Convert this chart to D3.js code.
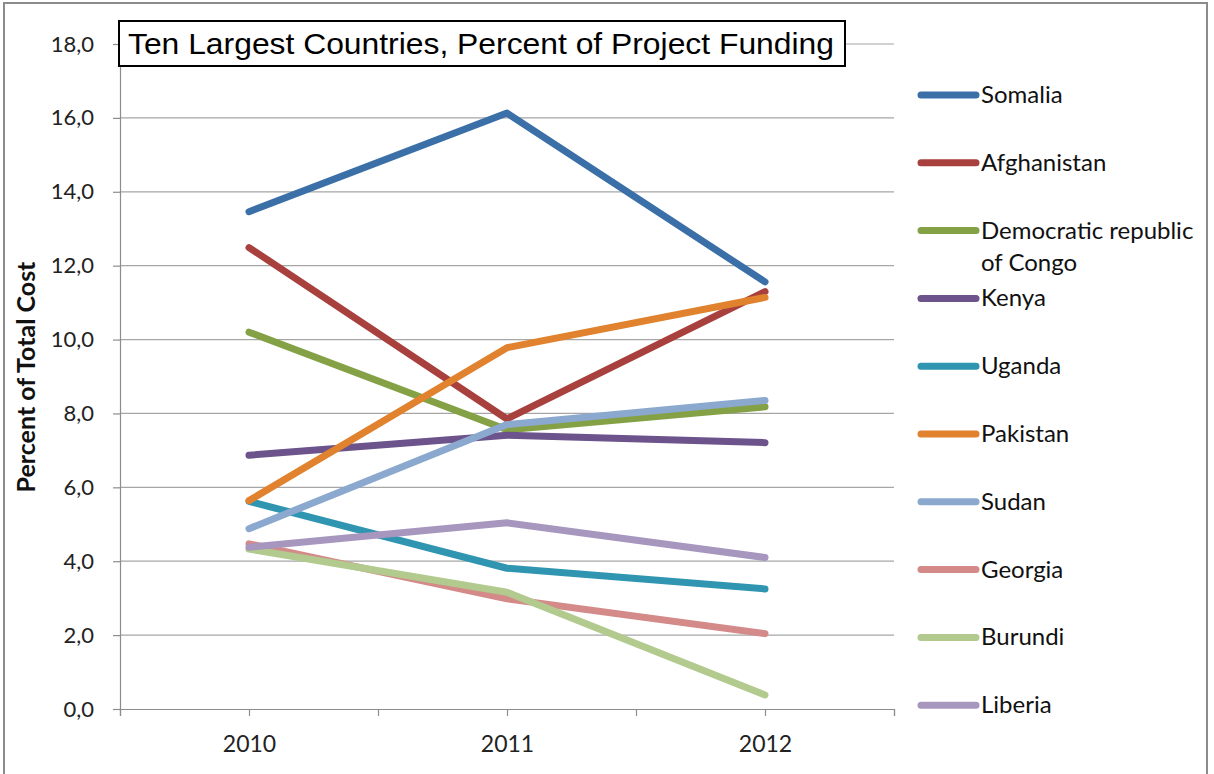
<!DOCTYPE html>
<html>
<head>
<meta charset="utf-8">
<script src="https://cdn.jsdelivr.net/npm/d3@7"></script>
<style>
  body { margin: 0; background: #fff; }
  svg { display: block; }
</style>
</head>
<body>
<div id="chart"></div>
<script>
// data
const years = ['2010', '2011', '2012'];
const countries = ['Somalia', 'Afghanistan', 'Democratic republic of Congo', 'Kenya', 'Uganda',
                   'Pakistan', 'Sudan', 'Georgia', 'Burundi', 'Liberia'];
const somalia     = [13.46, 16.13, 11.56];
const afghanistan = [12.49, 7.85, 11.30];
const congo       = [10.20, 7.56, 8.18];
const kenya       = [6.87, 7.41, 7.21];
const uganda      = [5.62, 3.81, 3.25];
const pakistan    = [5.64, 9.78, 11.14];
const sudan       = [4.88, 7.70, 8.35];
const georgia     = [4.47, 2.98, 2.04];
const burundi     = [4.33, 3.16, 0.38];
const liberia     = [4.38, 5.04, 4.10];
const yTicks = [0, 2, 4, 6, 8, 10, 12, 14, 16, 18];
const colors = ['#3B6FA7', '#A8403D', '#85A146', '#6C538B', '#2F95B1',
                '#E0822E', '#8BA8CF', '#D38A89', '#B2CA8D', '#A796BE'];

const series = [somalia, afghanistan, congo, kenya, uganda, pakistan, sudan, georgia, burundi, liberia];

const W = 1214, H = 774;
const svg = d3.select('#chart').append('svg')
  .attr('width', W)
  .attr('height', H);

// outer chart border (bottom edge falls outside the picture)
svg.append('rect')
  .attr('x', 4).attr('y', 3)
  .attr('width', 1203).attr('height', 790)
  .attr('fill', '#fff')
  .attr('stroke', '#8c8c8c')
  .attr('stroke-width', 2);

const x = d3.scaleLinear().domain([-0.5, 2.5]).range([120, 894]);
const y = d3.scaleLinear().domain([0, 18]).range([709, 44]);

// gridlines
svg.append('g')
  .selectAll('line')
  .data(yTicks.slice(1))
  .join('line')
  .attr('x1', 120).attr('x2', 894)
  .attr('y1', d => y(d)).attr('y2', d => y(d))
  .attr('stroke', '#a6a6a6')
  .attr('stroke-width', 1.2);

// y axis
const yAxis = svg.append('g')
  .attr('transform', 'translate(120,0)')
  .call(d3.axisLeft(y).tickValues(yTicks).tickSize(7).tickPadding(19)
    .tickFormat(d => d3.format('.1f')(d).replace('.', ',')));
yAxis.select('.domain').attr('stroke', '#8c8c8c').attr('stroke-width', 1.2);
yAxis.selectAll('.tick line').attr('stroke', '#8c8c8c').attr('stroke-width', 1.2);
yAxis.selectAll('text')
  .attr('font-family', 'Lato, "Open Sans", sans-serif')
  .attr('font-size', 22)
  .attr('fill', '#222');

// x axis
const xAxis = svg.append('g')
  .attr('transform', 'translate(0,709)')
  .call(d3.axisBottom(x).tickValues([-0.5, 0, 0.5, 1, 1.5, 2, 2.5]).tickSize(7)
    .tickFormat(d => Number.isInteger(d) ? years[d] : ''));
xAxis.select('.domain').attr('stroke', '#8c8c8c').attr('stroke-width', 1.2);
xAxis.selectAll('.tick line').attr('stroke', '#8c8c8c').attr('stroke-width', 1.2);
xAxis.selectAll('text')
  .attr('y', 43)
  .attr('dy', 0)
  .attr('font-family', 'Lato, "Open Sans", sans-serif')
  .attr('font-size', 23)
  .attr('fill', '#222');

// y axis title
svg.append('text')
  .attr('transform', 'translate(35,377) rotate(-90)')
  .attr('text-anchor', 'middle')
  .attr('font-family', 'Lato, "Open Sans", sans-serif')
  .attr('font-weight', 'bold')
  .attr('font-size', 25)
  .attr('fill', '#111')
  .text('Percent of Total Cost');

// lines
const line = d3.line()
  .x((d, i) => x(i))
  .y(d => y(d));

svg.append('g')
  .selectAll('path')
  .data(series)
  .join('path')
  .attr('d', d => line(d))
  .attr('fill', 'none')
  .attr('stroke', (d, i) => colors[i])
  .attr('stroke-width', 7)
  .attr('stroke-linecap', 'round')
  .attr('stroke-linejoin', 'round');

// title box
const tg = svg.append('g');
tg.append('rect')
  .attr('x', 119).attr('y', 21)
  .attr('width', 726).attr('height', 45)
  .attr('fill', '#fff')
  .attr('stroke', '#000')
  .attr('stroke-width', 2);
tg.append('text')
  .attr('x', 128).attr('y', 54)
  .attr('font-family', '"Liberation Sans", Arial, sans-serif')
  .attr('font-size', 30)
  .attr('textLength', 706)
  .attr('lengthAdjust', 'spacingAndGlyphs')
  .attr('fill', '#000')
  .text('Ten Largest Countries, Percent of Project Funding');

// legend
const legend = svg.append('g')
  .selectAll('g')
  .data(countries)
  .join('g')
  .attr('transform', (d, i) => `translate(919,${95 + i * 67.8})`);

legend.append('line')
  .attr('x1', 2).attr('x2', 57)
  .attr('y1', 0).attr('y2', 0)
  .attr('stroke', (d, i) => colors[i])
  .attr('stroke-width', 7)
  .attr('stroke-linecap', 'round');

legend.append('text')
  .attr('x', 62)
  .attr('y', 8)
  .attr('font-family', 'Lato, "Open Sans", sans-serif')
  .attr('font-size', 24)
  .attr('fill', '#111')
  .each(function (d) {
    const t = d3.select(this);
    if (d === 'Democratic republic of Congo') {
      t.append('tspan').attr('x', 62).attr('dy', 0).text('Democratic republic');
      t.append('tspan').attr('x', 62).attr('dy', 32).text('of Congo');
    } else {
      t.text(d);
    }
  });
</script>
</body>
</html>
